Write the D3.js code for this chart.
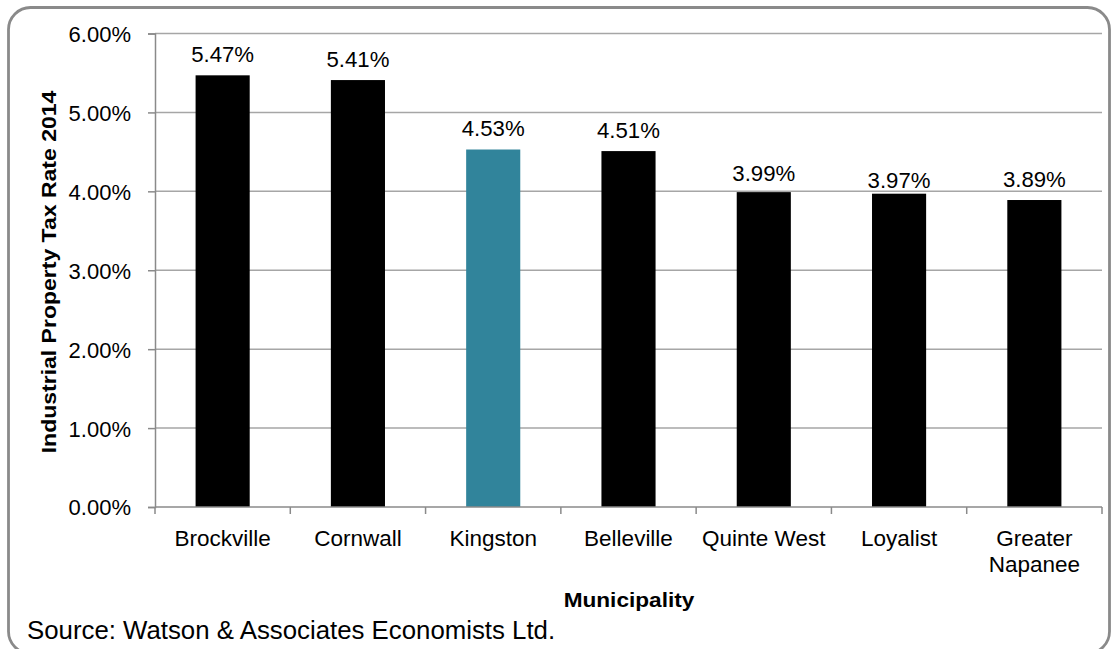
<!DOCTYPE html>
<html>
<head>
<meta charset="utf-8">
<script src="https://cdn.jsdelivr.net/npm/d3@7/dist/d3.min.js"></script>
<style>
  html, body { margin: 0; padding: 0; background: #fff; }
  svg { display: block; font-family: "Liberation Sans", Arial, sans-serif; }
</style>
</head>
<body>
<svg id="chart" width="1118" height="649"></svg>
<script>
// Industrial property tax rates, 2014
const municipalities = ["Brockville", "Cornwall", "Kingston", "Belleville", "Quinte West", "Loyalist", "Greater Napanee"];
const taxRates = [5.47, 5.41, 4.53, 4.51, 3.99, 3.97, 3.89];
const highlighted = ["Kingston"];
const yTicks = [0, 1, 2, 3, 4, 5, 6];

// Label nudges (px, positive = down) where the report shifted a value label
const labelNudge = { "Loyalist": 8, "Quinte West": 2 };

const FONT = "'Liberation Sans', Arial, sans-serif";
const svg = d3.select("#chart");

// Rounded outer frame
svg.append("rect")
  .attr("x", 8.5).attr("y", 7.5)
  .attr("width", 1101).attr("height", 646)
  .attr("rx", 22).attr("ry", 22)
  .attr("fill", "#fff")
  .attr("stroke", "#8a8a8a")
  .attr("stroke-width", 2.8);

const plot = { left: 155, right: 1102, top: 33.5, bottom: 507 };

const x = d3.scaleBand()
  .domain(municipalities)
  .range([plot.left, plot.right])
  .paddingInner(0.6)
  .paddingOuter(0.3);

const y = d3.scaleLinear()
  .domain([0, 6])
  .range([plot.bottom, plot.top]);

// Horizontal gridlines
svg.append("g")
  .selectAll("line")
  .data(yTicks.filter(d => d > 0))
  .join("line")
  .attr("x1", plot.left).attr("x2", plot.right)
  .attr("y1", d => y(d)).attr("y2", d => y(d))
  .attr("stroke", "#a6a6a6")
  .attr("stroke-width", 1.5);

// Bars
svg.append("g")
  .selectAll("rect")
  .data(municipalities)
  .join("rect")
  .attr("x", d => x(d))
  .attr("width", x.bandwidth())
  .attr("y", (d, i) => y(taxRates[i]))
  .attr("height", (d, i) => y(0) - y(taxRates[i]))
  .attr("fill", d => highlighted.includes(d) ? "#31849b" : "#000");

// Y axis
const yAxis = d3.axisLeft(y)
  .tickValues(yTicks)
  .tickFormat(d => d.toFixed(2) + "%")
  .tickSize(7)
  .tickPadding(17);

const gy = svg.append("g")
  .attr("transform", `translate(${plot.left},0)`)
  .call(yAxis);
gy.select(".domain").attr("stroke", "#8a8a8a").attr("stroke-width", 1.5);
gy.selectAll(".tick line").attr("stroke", "#8a8a8a").attr("stroke-width", 1.5);
gy.selectAll(".tick text")
  .attr("fill", "#000")
  .attr("dy", "0.36em")
  .style("font-size", "22px")
  .style("font-family", FONT);

// X axis line and category boundary ticks
const step = x.step();
const boundaries = d3.range(municipalities.length + 1).map(i => plot.left + i * step);
const gx = svg.append("g");
gx.append("line")
  .attr("x1", plot.left).attr("x2", plot.right)
  .attr("y1", plot.bottom).attr("y2", plot.bottom)
  .attr("stroke", "#8a8a8a").attr("stroke-width", 1.5);
gx.selectAll("line.btick")
  .data(boundaries)
  .join("line")
  .attr("class", "btick")
  .attr("x1", d => d).attr("x2", d => d)
  .attr("y1", plot.bottom).attr("y2", plot.bottom + 7)
  .attr("stroke", "#8a8a8a").attr("stroke-width", 1.5);

// Category labels (wrapped to two lines where needed)
const catLines = { "Greater Napanee": ["Greater", "Napanee"] };
gx.selectAll("text.cat")
  .data(municipalities)
  .join("text")
  .attr("class", "cat")
  .attr("text-anchor", "middle")
  .attr("font-size", 22.5)
  .attr("fill", "#000")
  .each(function(d) {
    const lines = catLines[d] || [d];
    const t = d3.select(this);
    lines.forEach((ln, k) => {
      t.append("tspan")
        .attr("x", x(d) + x.bandwidth() / 2)
        .attr("y", 546 + k * 26)
        .text(ln);
    });
  });

// Value labels
svg.append("g")
  .selectAll("text")
  .data(municipalities)
  .join("text")
  .attr("x", d => x(d) + x.bandwidth() / 2)
  .attr("y", (d, i) => y(taxRates[i]) - 13.5 + (labelNudge[d] || 0))
  .attr("text-anchor", "middle")
  .attr("font-size", 22.2)
  .attr("fill", "#000")
  .text((d, i) => taxRates[i].toFixed(2) + "%");

// Axis titles (bold, set slightly wide)
const yTitle = svg.append("text")
  .attr("transform", `translate(56,272) rotate(-90)`)
  .attr("text-anchor", "middle")
  .attr("font-size", 20)
  .attr("font-weight", "bold")
  .attr("fill", "#000")
  .text("Industrial Property Tax Rate  2014");
yTitle.attr("textLength", yTitle.node().getComputedTextLength() * 1.15)
  .attr("lengthAdjust", "spacingAndGlyphs");

const xTitle = svg.append("text")
  .attr("x", 629)
  .attr("y", 606.5)
  .attr("text-anchor", "middle")
  .attr("font-size", 19.5)
  .attr("font-weight", "bold")
  .attr("fill", "#000")
  .text("Municipality");
xTitle.attr("textLength", xTitle.node().getComputedTextLength() * 1.16)
  .attr("lengthAdjust", "spacingAndGlyphs");

// Source note
svg.append("text")
  .attr("x", 27)
  .attr("y", 639)
  .attr("font-size", 25.8)
  .attr("fill", "#000")
  .text("Source: Watson & Associates Economists Ltd.");
</script>
</body>
</html>
